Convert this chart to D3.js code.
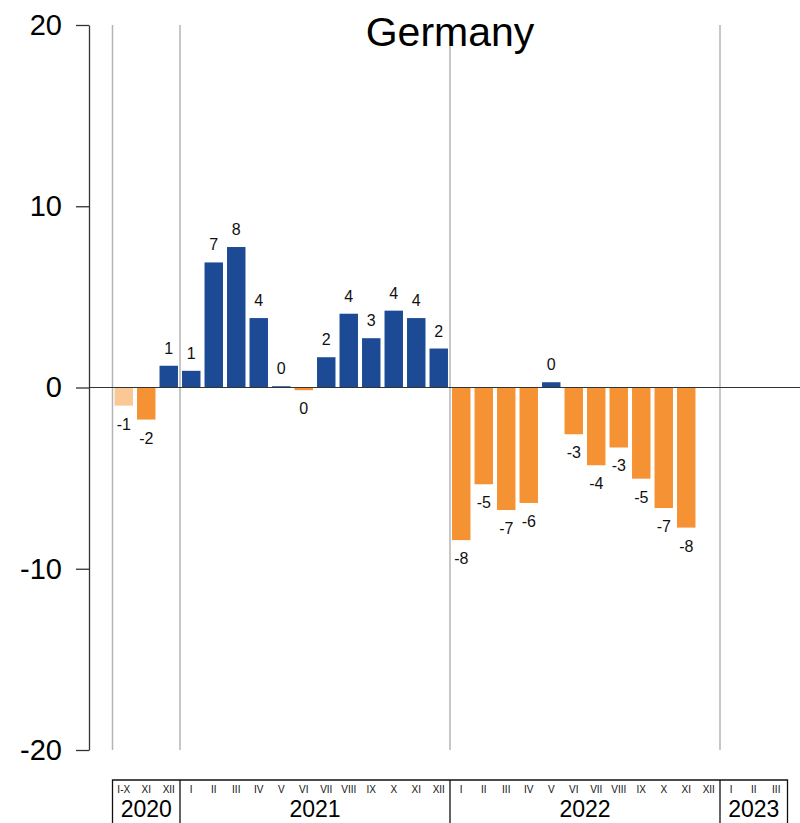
<!DOCTYPE html>
<html>
<head>
<meta charset="utf-8">
<script src="https://cdn.jsdelivr.net/npm/d3@7"></script>
<style>
   body { margin: 0; background: #fff; }
   svg { display: block; font-family: 'Liberation Sans', Arial, sans-serif; }
</style>
</head>
<body>
<script>
// chart data
const title = 'Germany';
const years = ['2020', '2021', '2022', '2023'];
const roman = ['I', 'II', 'III', 'IV', 'V', 'VI', 'VII', 'VIII', 'IX', 'X', 'XI', 'XII'];
const yearMonths = [
   ['I-X', 'XI', 'XII'],
   roman,
   roman,
   ['I', 'II', 'III']
];
// one value per month slot, null = no data yet
const values = [
   -1.0, -1.77, 1.2,
   0.92, 6.9, 7.75, 3.83, 0.07, -0.15, 1.67, 4.07, 2.72, 4.24, 3.83, 2.15,
   -8.42, -5.34, -6.76, -6.37, 0.29, -2.58, -4.29, -3.31, -5.03, -6.65, -7.73, null,
   null, null, null
];
const fadedSlots = ['2020 I-X'];   // cumulative period shown lighter
const yTicks = [-20, -10, 0, 10, 20];

// canvas
let width = 800;
let height = 823;
let plotTop = 25;
let plotBottom = 750;
let plotLeft = 112.5;
let plotRight = 787.5;
let axisX = 89;
let boxTop = 780;

let colors = { pos: '#1d4a94', neg: '#f59334', faded: '#f9c894' };

// build slot table
let slots = [];
yearMonths.forEach((months, yi) => {
   months.forEach((m) => {
      slots.push({ key: years[yi] + ' ' + m, year: years[yi], month: m, value: values[slots.length] });
   });
});

let svg = d3.select('body').append('svg')
   .attr('width', width)
   .attr('height', height);

let xScale = d3.scaleBand()
   .domain(slots.map((d) => d.key))
   .range([plotLeft, plotRight])
   .paddingInner(0.18)
   .paddingOuter(0.09);

let yScale = d3.scaleLinear()
   .domain([-20, 20])
   .range([plotBottom, plotTop]);

let step = xScale.step();
let slotLeft = (key) => xScale(key) - step * xScale.paddingInner() / 2;

// year boundaries (left edge of first month in each year)
let yearStarts = years.map((yr) => slotLeft(slots.find((d) => d.year === yr).key));

// gray separators
svg.append('g')
   .selectAll('line')
   .data(yearStarts)
   .enter()
   .append('line')
   .attr('x1', (d) => d)
   .attr('x2', (d) => d)
   .attr('y1', plotTop)
   .attr('y2', plotBottom)
   .attr('stroke', '#b4b4b4')
   .attr('stroke-width', 1.5);

// title
svg.append('text')
   .text(title)
   .attr('x', (plotLeft + plotRight) / 2)
   .attr('y', 46)
   .attr('text-anchor', 'middle')
   .style('font-size', '41px')
   .attr('fill', '#000');

// bars
let drawn = slots.filter((d) => d.value !== null);
let barColor = (d) => {
   if (fadedSlots.includes(d.key)) return colors.faded;
   return d.value >= 0 ? colors.pos : colors.neg;
};

svg.append('g')
   .selectAll('rect')
   .data(drawn)
   .enter()
   .append('rect')
   .attr('x', (d) => xScale(d.key))
   .attr('width', xScale.bandwidth())
   .attr('y', (d) => yScale(Math.max(0, d.value)))
   .attr('height', (d) => Math.abs(yScale(d.value) - yScale(0)))
   .attr('fill', barColor);

// value labels
svg.append('g')
   .selectAll('text')
   .data(drawn)
   .enter()
   .append('text')
   .attr('x', (d) => xScale(d.key) + xScale.bandwidth() / 2)
   .attr('y', (d) => d.value >= 0 ? yScale(d.value) - 12 : yScale(d.value) + 24)
   .attr('text-anchor', 'middle')
   .style('font-size', '16px')
   .attr('fill', '#111')
   .text((d) => {
      let r = Math.round(d.value);
      return r === 0 ? '0' : String(r);
   });

// zero line
svg.append('line')
   .attr('x1', axisX)
   .attr('x2', width)
   .attr('y1', yScale(0))
   .attr('y2', yScale(0))
   .attr('stroke', '#333')
   .attr('stroke-width', 1.2);

// y axis
let yAxis = d3.axisLeft(yScale)
   .tickValues(yTicks)
   .tickSize(13)
   .tickSizeOuter(0)
   .tickPadding(14)
   .tickFormat(d3.format('d'));

let yG = svg.append('g')
   .attr('transform', 'translate(' + axisX + ', 0)')
   .call(yAxis);
yG.selectAll('path, line').attr('stroke', '#333').attr('stroke-width', 1.3);
yG.selectAll('text')
   .style('font-size', '29px')
   .style('font-family', "'Liberation Sans', Arial, sans-serif")
   .attr('fill', '#000')
   .text((d) => d < 0 ? '-' + Math.abs(d) : d);

// bottom month / year box
let box = svg.append('g');
box.append('path')
   .attr('d', 'M' + plotLeft + ',' + (height + 5) + 'V' + boxTop + 'H' + plotRight + 'V' + (height + 5))
   .attr('fill', 'none')
   .attr('stroke', '#111')
   .attr('stroke-width', 1.3);

box.selectAll('.yeardiv')
   .data(yearStarts.slice(1))
   .enter()
   .append('line')
   .attr('class', 'yeardiv')
   .attr('x1', (d) => d)
   .attr('x2', (d) => d)
   .attr('y1', boxTop)
   .attr('y2', height + 5)
   .attr('stroke', '#111')
   .attr('stroke-width', 1.3);

box.selectAll('.month')
   .data(slots)
   .enter()
   .append('text')
   .attr('class', 'month')
   .attr('x', (d) => xScale(d.key) + xScale.bandwidth() / 2)
   .attr('y', 793)
   .attr('text-anchor', 'middle')
   .style('font-size', '10px')
   .attr('fill', '#111')
   .text((d) => d.month);

let yearEnds = yearStarts.slice(1).concat([plotRight]);
box.selectAll('.year')
   .data(years)
   .enter()
   .append('text')
   .attr('class', 'year')
   .attr('x', (d, i) => (yearStarts[i] + yearEnds[i]) / 2)
   .attr('y', 817)
   .attr('text-anchor', 'middle')
   .style('font-size', '23px')
   .attr('fill', '#000')
   .text((d) => d);
</script>
</body>
</html>
